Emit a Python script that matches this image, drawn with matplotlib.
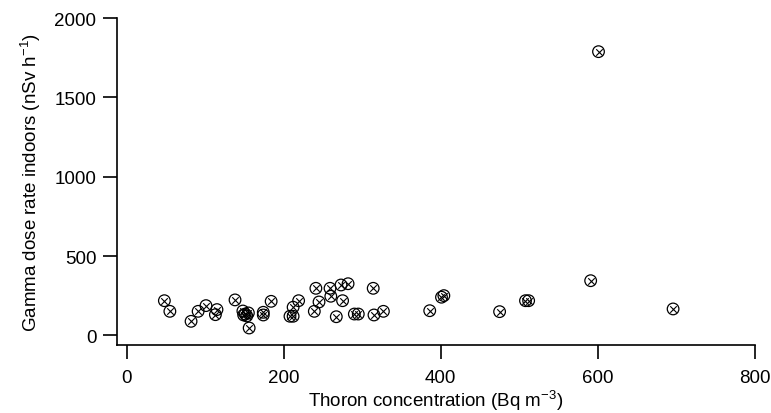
import matplotlib
matplotlib.use('Agg')
import matplotlib.pyplot as plt

plt.rcParams['font.family'] = ['Liberation Sans', 'DejaVu Sans']

# thoron (Bq m-3) vs indoor gamma dose rate (nSv h-1)
thoron = [48, 55, 82, 91, 101, 115, 113, 138, 148, 151, 153, 149, 155, 156,
          174, 174, 184, 208, 212, 212, 219, 239, 245, 241, 259, 260, 267,
          273, 275, 282, 290, 295, 314, 315, 327, 386, 401, 404, 475, 508,
          512, 591, 696, 601]
gamma = [219, 152, 89, 152, 188, 163, 131, 224, 154, 135, 123, 129, 142, 47,
         146, 129, 215, 121, 121, 178, 219, 152, 211, 297, 297, 247, 118,
         318, 219, 326, 135, 135, 297, 129, 152, 156, 241, 251, 150, 219,
         219, 345, 167, 1788]

fig = plt.figure(figsize=(7.71, 4.14), dpi=100)
ax = fig.add_axes([0.1521, 0.1643, 0.8268, 0.7898])

ax.scatter(thoron, gamma, s=70, facecolors='none', edgecolors='black', linewidths=0.9, zorder=3)
ax.scatter(thoron, gamma, s=22, marker='x', color='black', linewidths=0.8, zorder=3)

ax.set_xlim(-12, 800)
ax.set_ylim(-60, 2000)
ax.set_xticks([0, 200, 400, 600, 800])
ax.set_yticks([0, 500, 1000, 1500, 2000])

for side in ['top', 'right']:
    ax.spines[side].set_visible(False)
for side in ['left', 'bottom']:
    ax.spines[side].set_linewidth(1.2)

ax.tick_params(axis='both', direction='out', length=10, width=1.2, labelsize=13.5, colors='black')
ax.tick_params(axis='x', pad=7)
ax.tick_params(axis='y', pad=5)

ax.set_xlabel('Thoron concentration (Bq m$^{\\mathregular{-3}}$)', fontsize=13.5, labelpad=1)
ax.set_ylabel('Gamma dose rate indoors (nSv h$^{\\mathregular{-1}}$)', fontsize=13.5, labelpad=8)

fig.savefig('out.png', dpi=100)
